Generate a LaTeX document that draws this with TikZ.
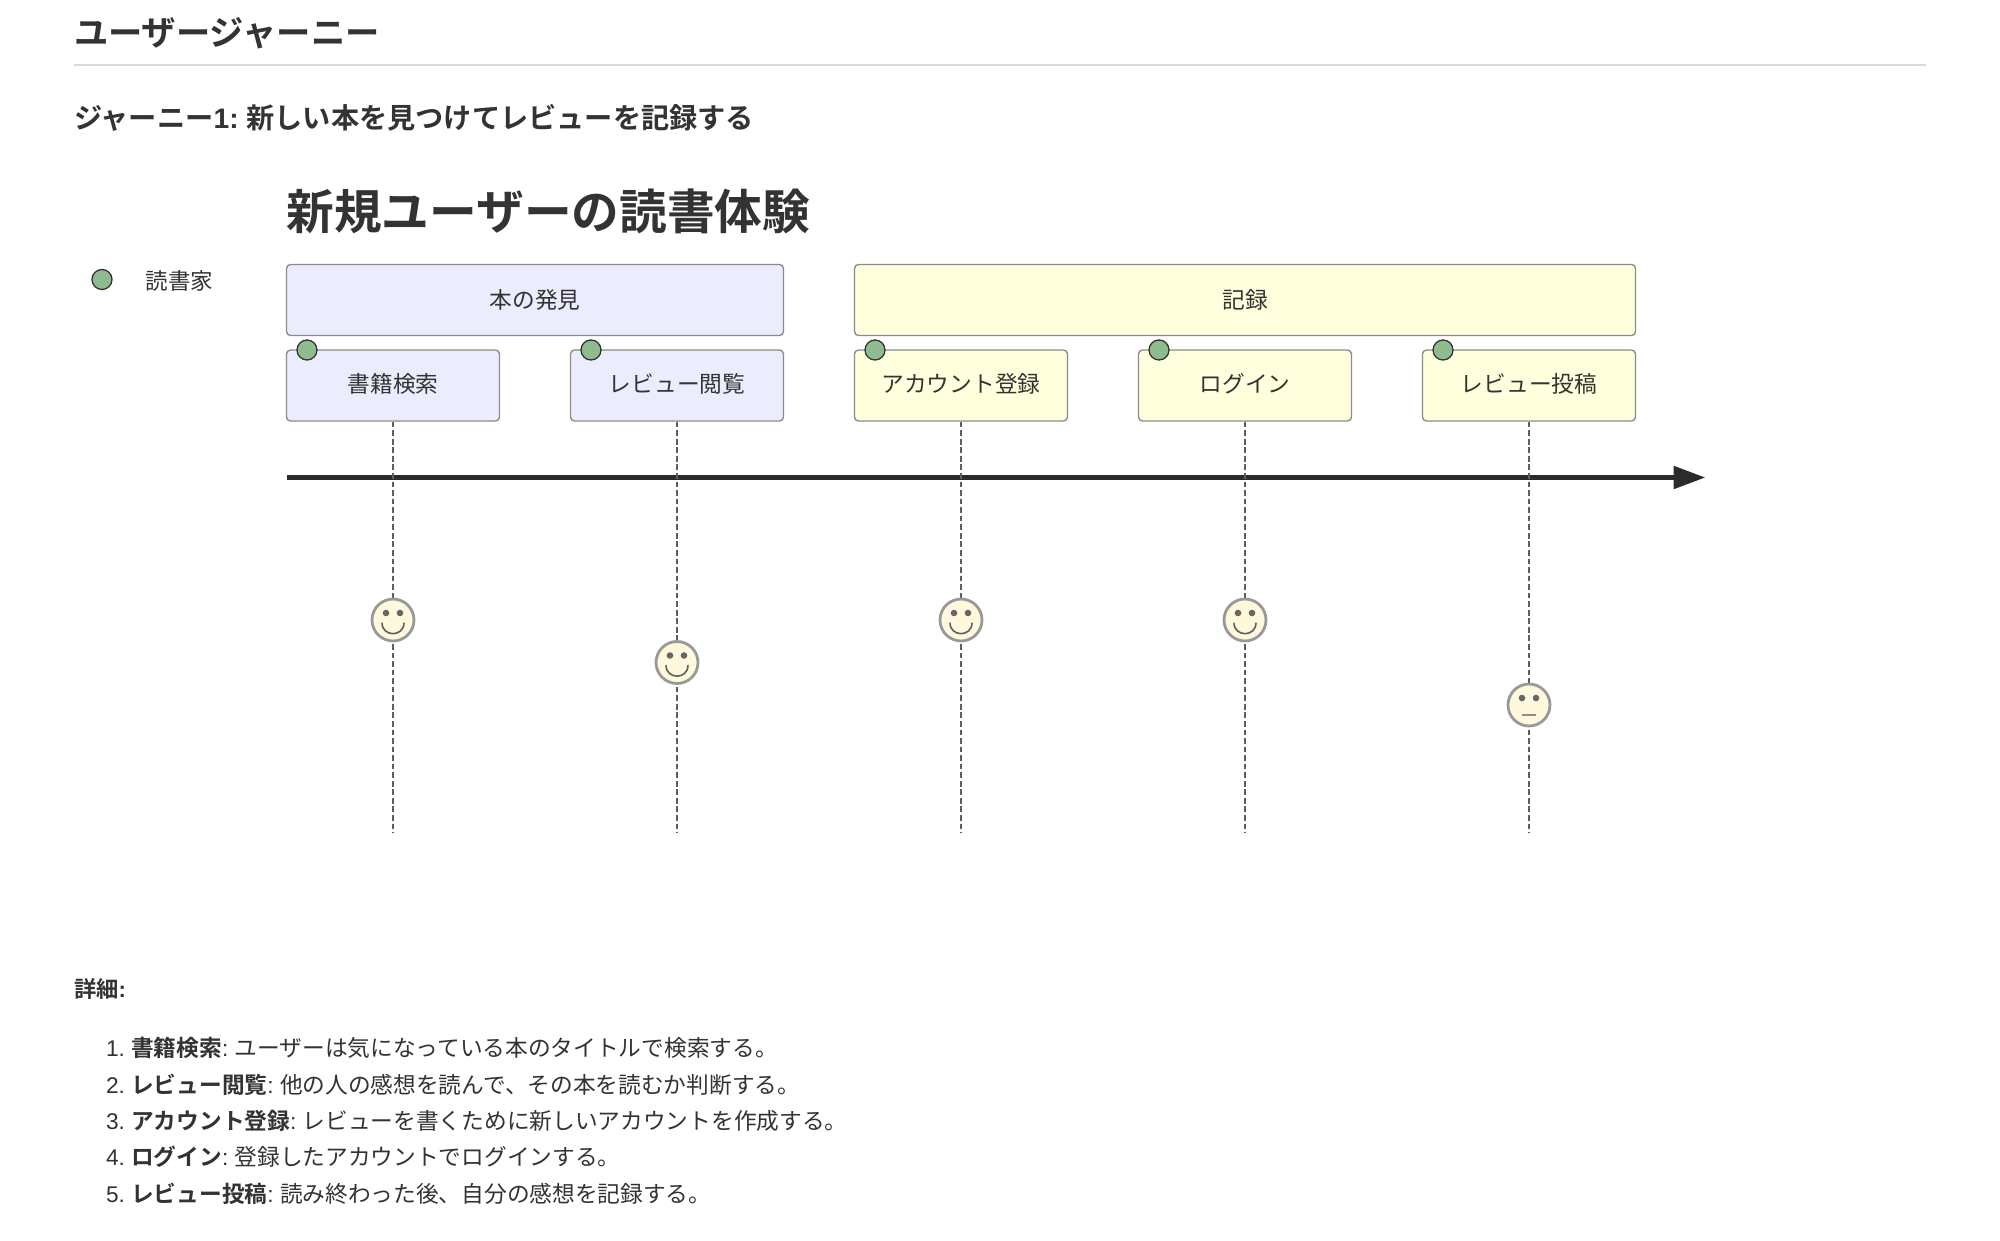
\documentclass[tikz,border=0pt]{standalone}
\usepackage{fontspec}
\setmainfont{Noto Sans CJK JP}[BoldFont={Noto Sans CJK JP Bold}]
\newfontfamily\latinf{Liberation Sans}
\frenchspacing
\usetikzlibrary{arrows.meta}
\definecolor{ink}{HTML}{333333}
\definecolor{axisink}{HTML}{2B2B2B}
\definecolor{boxedge}{HTML}{8C8C8C}
\definecolor{secblue}{HTML}{ECECFF}
\definecolor{secyellow}{HTML}{FFFFDE}
\definecolor{actor}{HTML}{8FBC8F}
\definecolor{faceback}{HTML}{FFF8DC}
\definecolor{facepart}{HTML}{666666}
\definecolor{dashink}{HTML}{5E5E5E}
\newcommand{\fs}[1]{\fontsize{#1}{#1}\selectfont}
\tikzset{
  x=1pt,y=-1pt,
  txt/.style={inner sep=0pt,outer sep=0pt,text=ink},
  leftxt/.style={txt,anchor=base west},
  boxbase/.style={draw=boxedge,line width=1.4pt,rounded corners=4pt,inner sep=0pt,text=ink,font=\fs{22.7}},
  blue/.style={boxbase,fill=secblue},
  yellow/.style={boxbase,fill=secyellow},
  secbox/.style={minimum height=71pt},
  taskbox/.style={minimum width=213pt,minimum height=71pt,text height=16.8pt,text depth=2pt},
  dot/.style={circle,draw=ink,line width=1.3pt,fill=actor,minimum size=20pt,inner sep=0pt},
  facebody/.style={circle,draw=black!40,line width=2.8pt,fill=faceback,minimum size=42pt,inner sep=0pt},
  lifeline/.style={draw=dashink,line width=1.4pt,dash pattern=on 5.7pt off 2.85pt},
  eyes/.pic={\fill[facepart] (-7,-7) circle[radius=3.3] (7,-7) circle[radius=3.3];},
  happy/.pic={\pic{eyes};\draw[dashink,line width=1.6pt] (-11,2.7) .. controls (-11,17.3) and (11,17.3) .. (11,2.7);},
  neutral/.pic={\pic{eyes};\draw[boxedge,line width=1.4pt] (-7,10) -- (7,10);},
}
\begin{document}
\begin{tikzpicture}
\useasboundingbox (0,0) rectangle (2000,1241);
\fill[white] (0,0) rectangle (2000,1241);

\node[leftxt,font=\fs{34.3}\bfseries] (h2) at (74,45.5) {ユーザージャーニー};
\coordinate (ruleL) at (74,65);
\coordinate (ruleE) at (1926,65);
\draw[draw=black!15,line width=1.6pt] (ruleL) -- (ruleE);
\node[leftxt,font=\fs{28.2}\bfseries] (h3) at (74,128.5) {ジャーニー{\latinf 1: }新しい本を見つけてレビューを記録する};

\node[leftxt,font=\fs{47.7}\bfseries] (title) at (286.5,230) {新規ユーザーの読書体験};

\node[dot] (legdot) at (102,279.5) {};
\node[leftxt,font=\fs{22.5}] (legtxt) at (145.5,289.5) {読書家};

\node[blue,secbox,minimum width=497pt] (s1) at (535,300) {本の発見};
\node[yellow,secbox,minimum width=781pt] (s2) at (1245,300) {記録};

\node[blue,taskbox] (t1) at (393,385.5) {書籍検索};
\node[blue,taskbox] (t2) at (677,385.5) {レビュー閲覧};
\node[yellow,taskbox] (t3) at (961,385.5) {アカウント登録};
\node[yellow,taskbox] (t4) at (1245,385.5) {ログイン};
\node[yellow,taskbox] (t5) at (1529,385.5) {レビュー投稿};

\node[dot] (d1) at (307,350) {};
\node[dot] (d2) at (591,350) {};
\node[dot] (d3) at (875,350) {};
\node[dot] (d4) at (1159,350) {};
\node[dot] (d5) at (1443,350) {};

\coordinate (axisL) at (287,477.5);
\coordinate (axisR) at (1705.5,477.5);
\draw[axisink,line width=5.4pt,-{Triangle[length=32pt,width=22pt]}] (axisL) -- (axisR);

\foreach \i/\x in {1/393,2/677,3/961,4/1245,5/1529}{
  \coordinate (e\i) at (\x,833);
  \draw[lifeline] (t\i.south) -- (e\i);
}

\node[facebody] (f1) at (393,620) {};
\node[facebody] (f2) at (677,662.5) {};
\node[facebody] (f3) at (961,620) {};
\node[facebody] (f4) at (1245,620) {};
\node[facebody] (f5) at (1529,705) {};
\pic at (f1) {happy};
\pic at (f2) {happy};
\pic at (f3) {happy};
\pic at (f4) {happy};
\pic at (f5) {neutral};

\node[leftxt,font=\fs{22.3}\bfseries] (det) at (74,997) {詳細{\latinf :}};
\node[leftxt,font=\fs{22.7}] (l1) at (106,1056) {{\latinf 1. }\textbf{書籍検索}{\latinf : }ユーザーは気になっている本のタイトルで検索する。};
\node[leftxt,font=\fs{22.7}] (l2) at (106,1093) {{\latinf 2. }\textbf{レビュー閲覧}{\latinf : }他の人の感想を読んで、その本を読むか判断する。};
\node[leftxt,font=\fs{22.7}] (l3) at (106,1129) {{\latinf 3. }\textbf{アカウント登録}{\latinf : }レビューを書くために新しいアカウントを作成する。};
\node[leftxt,font=\fs{22.7}] (l4) at (106,1165) {{\latinf 4. }\textbf{ログイン}{\latinf : }登録したアカウントでログインする。};
\node[leftxt,font=\fs{22.7}] (l5) at (106,1202) {{\latinf 5. }\textbf{レビュー投稿}{\latinf : }読み終わった後、自分の感想を記録する。};
\end{tikzpicture}
\end{document}
